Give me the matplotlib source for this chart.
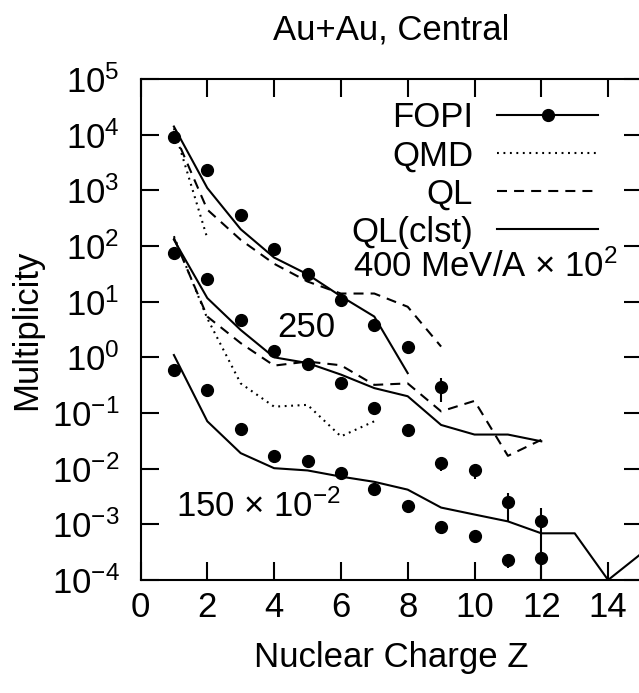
import numpy as np
from matplotlib import pyplot as plt
from matplotlib.lines import Line2D

plt.rcParams['font.family'] = ['Liberation Sans', 'DejaVu Sans']
plt.rcParams['mathtext.fontset'] = 'custom'
plt.rcParams['mathtext.rm'] = 'Liberation Sans'
plt.rcParams['mathtext.it'] = 'Liberation Sans'
plt.rcParams['font.size'] = 25

#---- FOPI data (400 scaled x1e2, 250 x1, 150 x1e-2) ----
z400 = [1, 2, 3, 4, 5, 6, 7, 8, 9]
fopi400 = [9100, 2300, 360, 87, 32, 10.7, 3.8, 1.56, 0.29]
fopi400_lo = [9100, 2300, 360, 87, 32, 10.7, 3.4, 1.25, 0.16]
fopi400_hi = [9100, 2300, 360, 87, 32, 10.7, 4.2, 1.9, 0.43]

z250 = [1, 2, 3, 4, 5, 6, 7, 8, 9, 10, 11, 12]
fopi250 = [74, 26, 4.7, 1.31, 0.755, 0.344, 0.122, 0.049, 0.0126, 0.0093, 0.0025, 0.00117]
fopi250_lo = [74, 26, 4.7, 1.31, 0.755, 0.344, 0.122, 0.042, 0.0089, 0.0065, 0.0011, 0.0006]
fopi250_hi = [74, 26, 4.7, 1.31, 0.755, 0.344, 0.122, 0.049, 0.0126, 0.0093, 0.0037, 0.00195]

z150 = [1, 2, 3, 4, 5, 6, 7, 8, 9, 10, 11, 12]
fopi150 = [0.6, 0.26, 0.051, 0.017, 0.0139, 0.0085, 0.0043, 0.0021, 0.00088, 0.00063, 0.00023, 0.000245]
fopi150_lo = [0.6, 0.26, 0.051, 0.017, 0.0139, 0.0085, 0.0043, 0.0021, 0.00068, 0.00047, 0.000165, 0.00001]
fopi150_hi = [0.6, 0.26, 0.051, 0.017, 0.0139, 0.0085, 0.0043, 0.0021, 0.00088, 0.00063, 0.00023, 0.0006]

#---- model curves ----
qmd400_z = [1, 2]
qmd400 = [13000, 138]
ql400_z = [1, 2, 3, 4, 5, 6, 7, 8, 9]
ql400 = [11000, 450, 129, 48, 23, 14, 14, 8.1, 1.56]
clst400_z = [1, 2, 3, 4, 5, 6, 7, 8]
clst400 = [14000, 1100, 200, 62, 31, 12.5, 5.4, 0.52]

qmd250_z = [1, 2, 3, 4, 5, 6, 7]
qmd250 = [150, 5.0, 0.34, 0.13, 0.14, 0.038, 0.071]
ql250_z = [1, 2, 3, 4, 5, 6, 7, 8, 9, 10, 11, 12]
ql250 = [140, 5.4, 1.8, 0.71, 0.84, 0.72, 0.32, 0.34, 0.107, 0.165, 0.017, 0.033]
clst250_z = [1, 2, 3, 4, 5, 6, 7, 8, 9, 10, 11, 12]
clst250 = [130, 11.6, 3.1, 1.0, 0.79, 0.49, 0.28, 0.2, 0.061, 0.041, 0.041, 0.031]

clst150_z = [1, 2, 3, 4, 5, 6, 7, 8, 9, 10, 11, 12, 13, 14, 15]
clst150 = [1.1, 0.071, 0.019, 0.0102, 0.0093, 0.0072, 0.0058, 0.0042, 0.0020, 0.0015,
           0.00113, 0.00069, 0.00069, 0.0001, 0.0003]

W, H = 639, 693
fig = plt.figure(figsize=(W/100, H/100), dpi=100)
ax = fig.add_axes([140.5/W, (H-580)/H, 501/W, 501/H])

lw = 1.5
dotted = (0, (0.9, 2.2))
dashed = (0, (4.8, 3.4))

def fopi(z, v, lo, hi):
    v = np.array(v); lo = np.array(lo); hi = np.array(hi)
    ax.errorbar(z, v, yerr=[v-lo, hi-v], fmt='o', color='black', ms=8.5,
                elinewidth=lw, capsize=0, zorder=3)

fopi(z400, fopi400, fopi400_lo, fopi400_hi)
fopi(z250, fopi250, fopi250_lo, fopi250_hi)
fopi(z150, fopi150, fopi150_lo, fopi150_hi)

ax.plot(qmd400_z, qmd400, color='black', lw=lw, ls=dotted)
ax.plot(ql400_z, ql400, color='black', lw=lw, ls=dashed)
ax.plot(clst400_z, clst400, color='black', lw=lw)
ax.plot(qmd250_z, qmd250, color='black', lw=lw, ls=dotted)
ax.plot(ql250_z, ql250, color='black', lw=lw, ls=dashed)
ax.plot(clst250_z, clst250, color='black', lw=lw)
ax.plot(clst150_z, clst150, color='black', lw=lw)

ax.set_yscale('log')
ax.set_xlim(0, 15)
ax.set_ylim(1e-4, 1e5)
ax.set_xticks(range(0, 15, 2))
ax.set_yticks(10.0**np.arange(-4, 6))
ax.minorticks_off()
ax.tick_params(direction='in', length=13, width=1.5, top=True, right=True)
ax.tick_params(axis='y', pad=15)
ax.tick_params(axis='x', pad=8)
for s in ax.spines.values():
    s.set_linewidth(1.5)

ax.set_xlabel('Nuclear Charge Z', labelpad=12)
ax.set_ylabel('Multiplicity', labelpad=6)
fig.text(391/W, 1-30/H, 'Au+Au, Central', ha='center', va='center')

ax.text(14.3, 42, '400 MeV/A × 10$^{2}$', ha='right', va='center')
ax.text(4.1, 3.4, '250', ha='left', va='center')
ax.text(1.06, 0.0021, '150 × 10$^{-2}$', ha='left', va='center')

handles = [Line2D([], [], color='black', lw=lw, marker='o', ms=8.5),
           Line2D([], [], color='black', lw=lw, ls=dotted),
           Line2D([], [], color='black', lw=lw, ls=dashed),
           Line2D([], [], color='black', lw=lw)]
ax.legend(handles, ['FOPI', 'QMD', 'QL', 'QL(clst)'], loc='upper right',
          bbox_to_anchor=(598/W, 1-101/H), bbox_transform=fig.transFigure,
          frameon=False, markerfirst=False, borderpad=0, borderaxespad=0,
          handlelength=2.9, handletextpad=0.7, labelspacing=0.15)

plt.savefig('out.png', dpi=100)
